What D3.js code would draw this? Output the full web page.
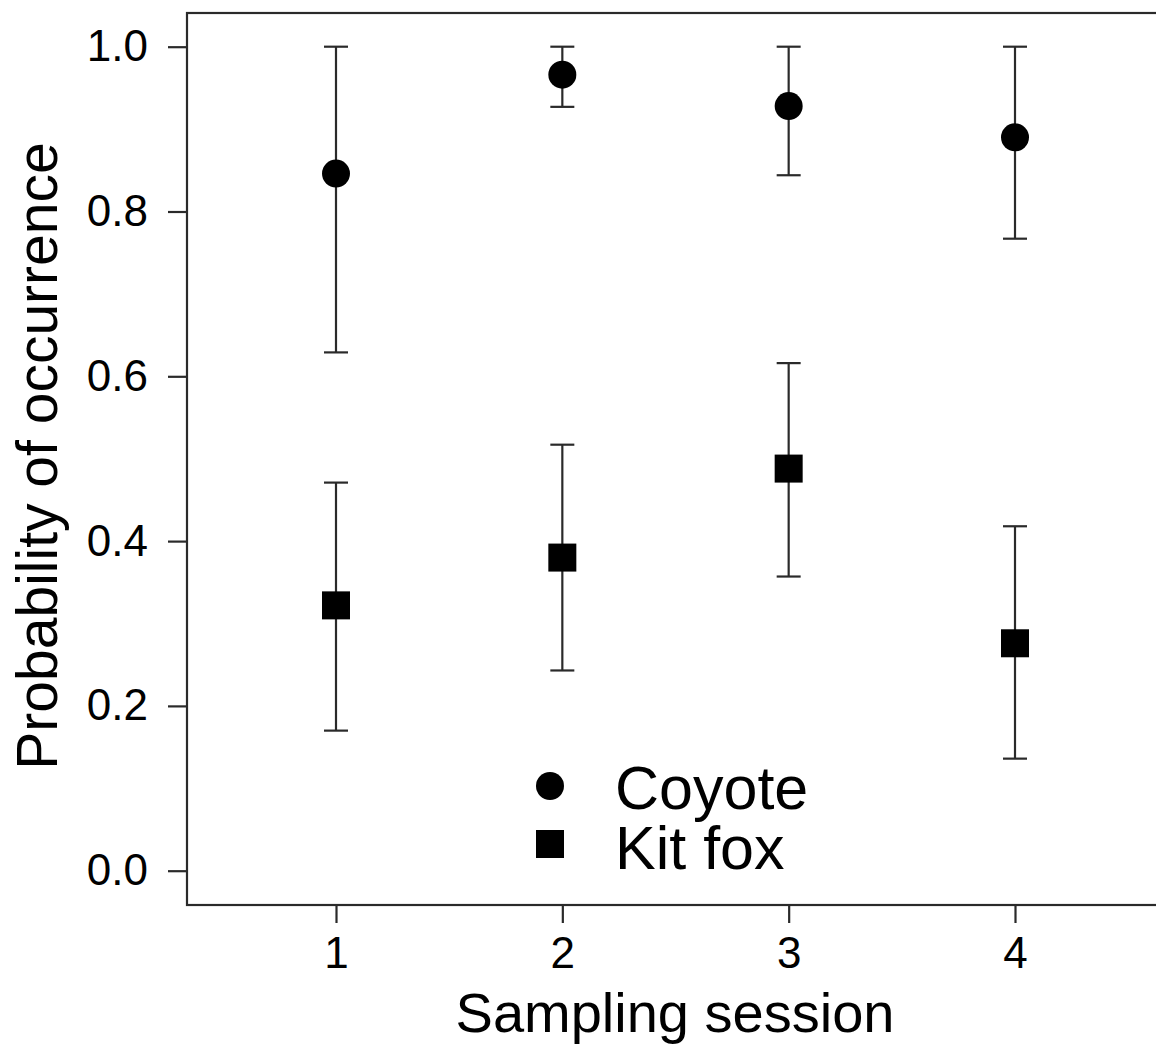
<!DOCTYPE html>
<html>
<head>
<meta charset="utf-8">
<script src="https://cdn.jsdelivr.net/npm/d3@7"></script>
<style>
  body { margin: 0; background: #fff; }
  svg { display: block; font-family: "Liberation Sans", Arial, sans-serif; }
</style>
</head>
<body>
<div id="chart"></div>
<script>
// Sampling sessions and estimates
const sessions = [1, 2, 3, 4];
const xTickLabels = ['1', '2', '3', '4'];
const yTicks = [0, 0.2, 0.4, 0.6, 0.8, 1.0];

const coyoteMean = [0.846, 0.966, 0.928, 0.890];
const coyoteLower = [0.629, 0.927, 0.844, 0.767];
const coyoteUpper = [1.0, 1.0, 1.0, 1.0];

const kitFoxMean = [0.322, 0.380, 0.488, 0.276];
const kitFoxLower = [0.170, 0.243, 0.357, 0.136];
const kitFoxUpper = [0.471, 0.517, 0.616, 0.418];

const legendLabels = ['Coyote', 'Kit fox'];

const width = 1156;
const height = 1044;
const box = { left: 187, top: 13, right: 1164, bottom: 905 };

const svg = d3.select('#chart')
  .append('svg')
  .attr('width', width)
  .attr('height', height);

// x runs a bit past 4 on the right, so the frame's right edge falls off-canvas
const x = d3.scaleLinear().domain([1, 4]).range([336, 1015]);
const y = d3.scaleLinear().domain([0, 1]).range([870.7, 46.7]);

const ink = '#2a2a2a';

// plot frame
svg.append('rect')
  .attr('x', box.left)
  .attr('y', box.top)
  .attr('width', box.right - box.left)
  .attr('height', box.bottom - box.top)
  .attr('fill', 'none')
  .attr('stroke', ink)
  .attr('stroke-width', 2.2);

// y axis
const yAxis = d3.axisLeft(y)
  .tickValues(yTicks)
  .tickFormat(d3.format('.1f'))
  .tickSize(19)
  .tickPadding(20);

svg.append('g')
  .attr('transform', `translate(${box.left},0)`)
  .call(yAxis)
  .call((g) => g.select('.domain').remove())
  .call((g) => g.selectAll('line').attr('stroke', ink).attr('stroke-width', 2.2))
  .call((g) => g.selectAll('text')
    .attr('fill', '#000')
    .style('font-size', '44px'));

// x axis
const xAxis = d3.axisBottom(x)
  .tickValues(sessions)
  .tickFormat((d, i) => xTickLabels[i])
  .tickSize(18)
  .tickPadding(14);

svg.append('g')
  .attr('transform', `translate(0,${box.bottom})`)
  .call(xAxis)
  .call((g) => g.select('.domain').remove())
  .call((g) => g.selectAll('line').attr('stroke', ink).attr('stroke-width', 2.2))
  .call((g) => g.selectAll('text')
    .attr('fill', '#000')
    .style('font-size', '44px'));

// axis titles
svg.append('text')
  .attr('x', 675)
  .attr('y', 1032)
  .attr('text-anchor', 'middle')
  .style('font-size', '56px')
  .text('Sampling session');

svg.append('text')
  .attr('transform', `translate(57,${456}) rotate(-90)`)
  .attr('text-anchor', 'middle')
  .style('font-size', '57px')
  .text('Probability of occurrence');

// error bars
const capHalf = 12;
const drawBars = (mean, lower, upper, cls) => {
  const data = sessions.map((s, i) => ({ s, m: mean[i], lo: lower[i], hi: upper[i] }));
  const g = svg.append('g').attr('class', cls)
    .attr('stroke', ink)
    .attr('stroke-width', 2.2);

  g.selectAll('line.stem')
    .data(data)
    .enter()
    .append('line')
    .attr('class', 'stem')
    .attr('x1', (d) => x(d.s))
    .attr('x2', (d) => x(d.s))
    .attr('y1', (d) => y(d.lo))
    .attr('y2', (d) => y(d.hi));

  ['lo', 'hi'].forEach((k) => {
    g.selectAll(`line.cap-${k}`)
      .data(data)
      .enter()
      .append('line')
      .attr('class', `cap-${k}`)
      .attr('x1', (d) => x(d.s) - capHalf)
      .attr('x2', (d) => x(d.s) + capHalf)
      .attr('y1', (d) => y(d[k]))
      .attr('y2', (d) => y(d[k]));
  });
  return data;
};

const coyoteData = drawBars(coyoteMean, coyoteLower, coyoteUpper, 'coyote-bars');
const foxData = drawBars(kitFoxMean, kitFoxLower, kitFoxUpper, 'fox-bars');

// points
svg.append('g')
  .selectAll('circle')
  .data(coyoteData)
  .enter()
  .append('circle')
  .attr('cx', (d) => x(d.s))
  .attr('cy', (d) => y(d.m))
  .attr('r', 14)
  .attr('fill', '#000');

const sq = 28;
svg.append('g')
  .selectAll('rect')
  .data(foxData)
  .enter()
  .append('rect')
  .attr('x', (d) => x(d.s) - sq / 2)
  .attr('y', (d) => y(d.m) - sq / 2)
  .attr('width', sq)
  .attr('height', sq)
  .attr('fill', '#000');

// legend
const legend = svg.append('g').attr('transform', 'translate(550,0)');
legend.append('circle')
  .attr('cx', 0)
  .attr('cy', 786)
  .attr('r', 14)
  .attr('fill', '#000');
legend.append('rect')
  .attr('x', -sq / 2)
  .attr('y', 844 - sq / 2)
  .attr('width', sq)
  .attr('height', sq)
  .attr('fill', '#000');
legend.selectAll('text')
  .data(legendLabels)
  .enter()
  .append('text')
  .attr('x', 65)
  .attr('y', (d, i) => 809 + i * 60)
  .style('font-size', '61px')
  .text((d) => d);
</script>
</body>
</html>
